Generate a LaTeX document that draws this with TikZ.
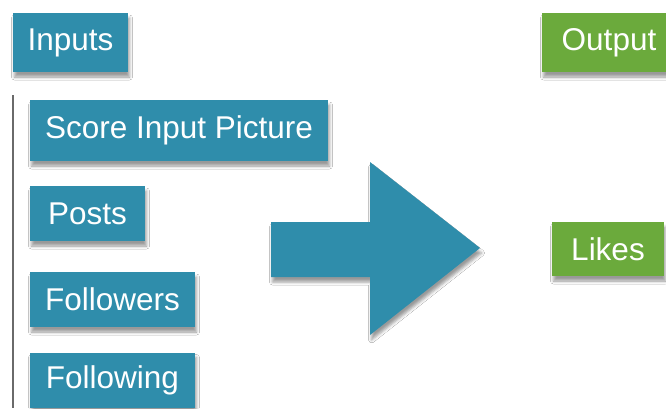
\documentclass[tikz,border=0pt]{standalone}
\usepackage{fontspec}
\setmainfont{Liberation Sans}
\usetikzlibrary{shadows.blur}
\definecolor{boxblue}{HTML}{2F8DAB}
\definecolor{boxgreen}{HTML}{6BAA3C}
\definecolor{linegray}{HTML}{6A6A6A}
\begin{document}
\begin{tikzpicture}[x=1pt,y=-1pt,
  sh/.style={blur shadow={shadow xshift=1.5pt, shadow yshift=-5pt, shadow blur radius=3pt, shadow opacity=40}},
  card/.style={sh, inner sep=0pt, text=white, font=\fontsize{31.5}{34}\selectfont},
  bluecard/.style={card, fill=boxblue},
  greencard/.style={card, fill=boxgreen}]
\clip (0,0) rectangle (666,408);
\useasboundingbox (0,0) rectangle (666,408);
\fill[white] (0,0) rectangle (666,408);
% left bracket line
\coordinate (ltop) at (13,95);
\coordinate (lbot) at (13,408);
\draw[linegray, line width=1.5pt] (ltop) -- (lbot);
% boxes
\node[bluecard, minimum width=115pt, minimum height=59pt] (inputs) at (70.5,42.5) {Inputs};
\node[bluecard, minimum width=298pt, minimum height=61pt] (score) at (179,130.5) {Score Input Picture};
\node[bluecard, minimum width=115pt, minimum height=55pt] (posts) at (87.5,213.5) {Posts};
\node[bluecard, minimum width=165pt, minimum height=55pt] (followers) at (112.5,299.5) {Followers};
\node[bluecard, minimum width=165pt, minimum height=55pt] (following) at (112.5,380) {Following};
\node[greencard, minimum width=134pt, minimum height=59pt] (output) at (609,42.5) {Output};
\node[greencard, minimum width=112pt, minimum height=54pt] (likes) at (608,249) {Likes};
% big arrow
\fill[boxblue, sh] (271,222) -- (370,222) -- (370,162) -- (480,248) -- (370,335) -- (370,277) -- (271,277) -- cycle;
\end{tikzpicture}
\end{document}
